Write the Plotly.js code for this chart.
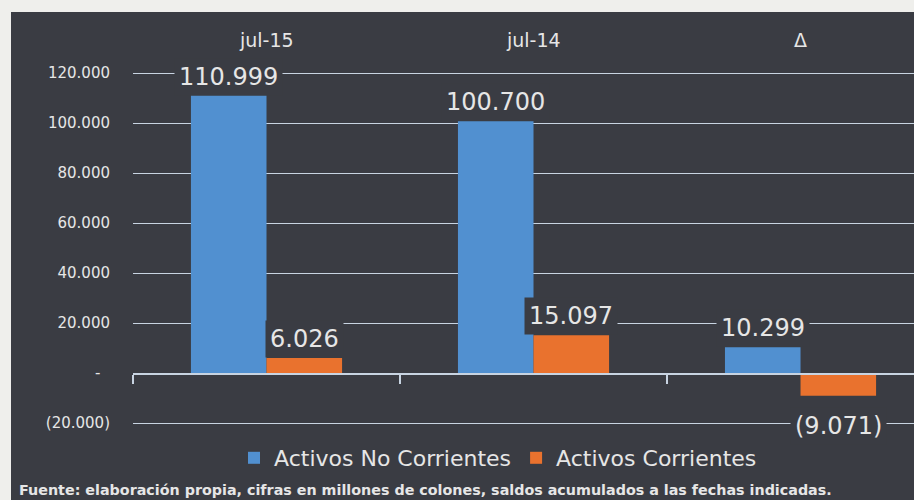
<!DOCTYPE html>
<html><head><meta charset="utf-8">
<script src="https://cdn.plot.ly/plotly-3.0.1.min.js"></script>
<style>
html,body{margin:0;padding:0;background:#efefec;width:914px;height:500px;overflow:hidden}
#chart{position:absolute;left:11px;top:12px;width:903px;height:488px}
</style></head><body><div id="chart"></div>
<script>
const categories = ['jul-15', 'jul-14', 'Δ'];
const noCorrientes = [110999, 100700, 10299];
const corrientes = [6026, 15097, -9071];
const seriesNames = ['Activos No Corrientes', 'Activos Corrientes'];
const yTickVals = [-20000, 0, 20000, 40000, 60000, 80000, 100000, 120000];
const yTickText = ['(20.000)', '-\u00a0\u00a0', '20.000', '40.000', '60.000', '80.000', '100.000', '120.000'];
const sourceNote = 'Fuente: elaboración propia, cifras en millones de colones, saldos acumulados a las fechas indicadas.';

const PANEL = '#3a3c43';
const BLUE = '#5190d0';
const ORANGE = '#e9722e';
const TXT = '#e6e6e6';
const GRID = '#c8d4e2';
const FONT = 'DejaVu Sans, sans-serif';

function fmt(v) {
  const s = Math.abs(v).toString().replace(/\B(?=(\d{3})+(?!\d))/g, '.');
  return v < 0 ? '(' + s + ')' : s;
}

const W = 903, H = 488;
const margin = {l: 122, r: 0, t: 48, b: 60};
const xRange = [-0.5, 2.425];
const yRange = [-26800, 125200];
const bargap = 0.434;
const plotW = W - margin.l - margin.r;
const plotH = H - margin.t - margin.b;
const catPx = plotW / (xRange[1] - xRange[0]);
const barPx = catPx * (1 - bargap) / 2;
const zeroPos = (0 - yRange[0]) / (yRange[1] - yRange[0]);

const traces = [
  {type: 'bar', name: seriesNames[0], x: categories, y: noCorrientes, marker: {color: BLUE}, hoverinfo: 'skip'},
  {type: 'bar', name: seriesNames[1], x: categories, y: corrientes, marker: {color: ORANGE}, hoverinfo: 'skip'}
];

const annotations = [];
[noCorrientes, corrientes].forEach((vals, si) => {
  vals.forEach((v, i) => {
    annotations.push({
      x: categories[i], y: v, xref: 'x', yref: 'y',
      xshift: (si === 0 ? -1 : 1) * barPx / 2,
      yanchor: v >= 0 ? 'bottom' : 'top',
      yshift: v >= 0 ? 0 : -11,
      text: fmt(v), showarrow: false,
      bgcolor: PANEL, borderpad: 4,
      font: {family: FONT, size: 24, color: TXT}
    });
  });
});
categories.forEach(c => {
  annotations.push({
    x: c, y: 1, xref: 'x', yref: 'paper', yanchor: 'bottom', yshift: 7,
    text: c, showarrow: false, font: {family: FONT, size: 19, color: TXT}
  });
});
annotations.push({
  xref: 'paper', yref: 'paper', x: (6 - margin.l) / plotW, xanchor: 'left',
  y: -50 / plotH, yanchor: 'middle',
  text: '<b>' + sourceNote + '</b>', showarrow: false,
  font: {family: FONT, size: 14.3, color: TXT}
});

const layout = {
  width: W, height: H, margin: margin,
  paper_bgcolor: PANEL, plot_bgcolor: PANEL,
  barmode: 'group', bargap: bargap, bargroupgap: 0,
  showlegend: true,
  legend: {orientation: 'h', x: (487 - margin.l) / plotW, xanchor: 'center',
           y: -18 / plotH, yanchor: 'middle',
           font: {family: FONT, size: 22, color: TXT}, bgcolor: 'rgba(0,0,0,0)',
           itemwidth: 30, tracegroupgap: 0},
  xaxis: {type: 'category', range: xRange, anchor: 'free', position: zeroPos,
          showline: true, linecolor: GRID, linewidth: 1.5,
          ticks: 'outside', tickson: 'boundaries', ticklen: 9, tickcolor: GRID, tickwidth: 1.5,
          showticklabels: false, showgrid: false, zeroline: false, fixedrange: true},
  yaxis: {range: yRange, tickvals: yTickVals, ticktext: yTickText,
          showgrid: true, gridcolor: GRID, gridwidth: 1, zeroline: false,
          showline: false, ticks: '', ticklabelstandoff: 22,
          tickfont: {family: FONT, size: 15, color: TXT}, fixedrange: true},
  annotations: annotations
};

Plotly.newPlot('chart', traces, layout, {displayModeBar: false, staticPlot: true});
</script></body></html>
